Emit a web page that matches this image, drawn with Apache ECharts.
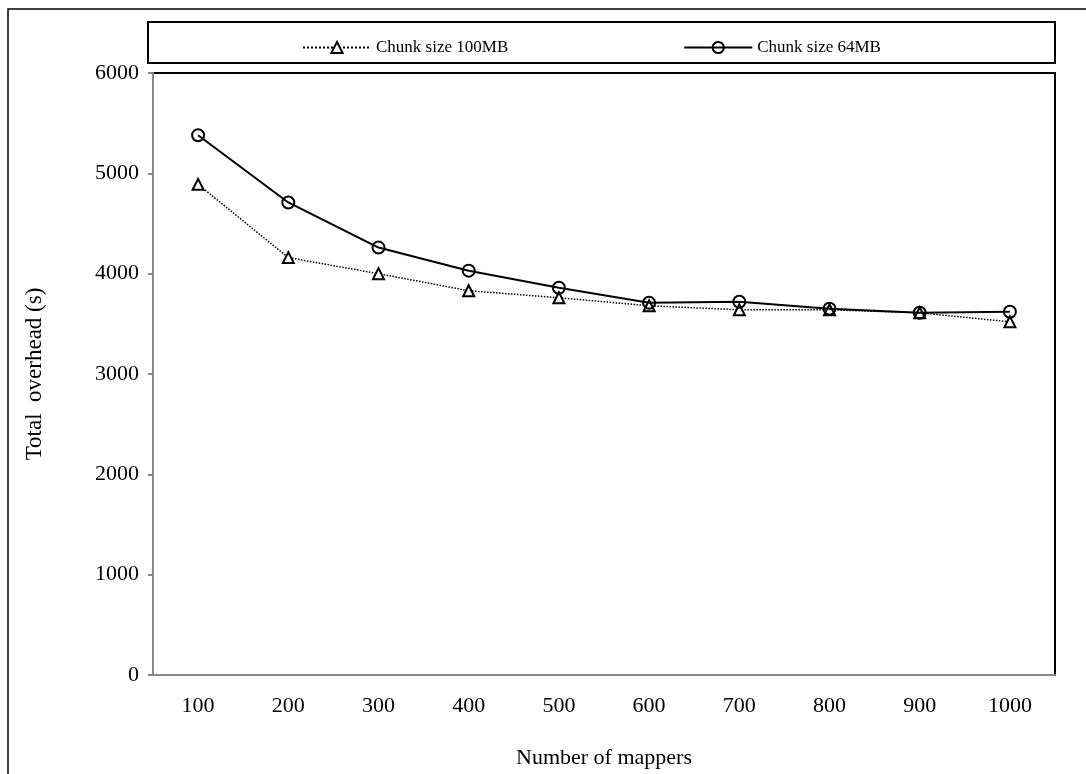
<!DOCTYPE html>
<html>
<head>
<meta charset="utf-8">
<script src="https://cdn.jsdelivr.net/npm/echarts@6/dist/echarts.min.js"></script>
<style>html,body{margin:0;padding:0;background:#fff}#c{width:1086px;height:774px}</style>
</head>
<body>
<div id="c"></div>
<script>
const categories = ['100','200','300','400','500','600','700','800','900','1000'];
const chunk100MB = [4890, 4160, 4000, 3830, 3760, 3680, 3640, 3640, 3610, 3520];
const chunk64MB = [5380, 4710, 4260, 4030, 3860, 3710, 3720, 3650, 3610, 3620];
const seriesNames = ['Chunk size 100MB', 'Chunk size 64MB'];
const yTicks = { min: 0, max: 6000, interval: 1000 };

const FONT = '"Liberation Serif", "Times New Roman", serif';
const chart = echarts.init(document.getElementById('c'));
chart.setOption({
  backgroundColor: '#fff',
  animation: false,
  graphic: [
    { type: 'rect', shape: { x: 8, y: 9, width: 1200, height: 900 }, style: { fill: 'none', stroke: '#000', lineWidth: 1.5 }, z: 0 },
    { type: 'rect', shape: { x: 148, y: 22, width: 907, height: 41 }, style: { fill: 'none', stroke: '#000', lineWidth: 2 }, z: 0 }
  ],
  legend: {
    left: 297, top: 34,
    itemWidth: 68, itemHeight: 14, itemGap: 175,
    textStyle: { fontFamily: FONT, fontSize: 17, color: '#000' },
    data: seriesNames
  },
  grid: { left: 153, right: 31, top: 73, bottom: 98, show: true, borderColor: '#000', borderWidth: 2, backgroundColor: 'transparent' },
  xAxis: {
    type: 'category', data: categories, boundaryGap: true,
    name: 'Number of mappers', nameLocation: 'middle', nameGap: 72,
    nameTextStyle: { fontFamily: FONT, fontSize: 22, color: '#000' },
    axisLine: { lineStyle: { color: '#888', width: 2 } },
    axisTick: { alignWithLabel: true, length: 5, lineStyle: { color: '#888', width: 2 } },
    axisLabel: { fontFamily: FONT, fontSize: 22, color: '#000', margin: 20 },
    splitLine: { show: false }
  },
  yAxis: {
    type: 'value', min: yTicks.min, max: yTicks.max, interval: yTicks.interval,
    name: 'Total  overhead (s)', nameLocation: 'middle', nameGap: 107,
    nameTextStyle: { fontFamily: FONT, fontSize: 23, color: '#000' },
    axisLine: { show: true, lineStyle: { color: '#888', width: 2 } },
    axisTick: { show: true, length: 5, lineStyle: { color: '#888', width: 2 } },
    axisLabel: { fontFamily: FONT, fontSize: 22, color: '#000', margin: 14, formatter: function (v) { return String(v); } },
    splitLine: { show: false }
  },
  series: [
    {
      name: seriesNames[0], type: 'line', data: chunk100MB,
      symbol: 'triangle', symbolSize: 11,
      lineStyle: { type: 'dotted', width: 1.5, color: '#000' },
      itemStyle: { color: '#fff', borderColor: '#000', borderWidth: 2 },
      z: 3
    },
    {
      name: seriesNames[1], type: 'line', data: chunk64MB,
      symbol: 'circle', symbolSize: 12,
      lineStyle: { type: 'solid', width: 2, color: '#000' },
      itemStyle: { color: 'rgba(255,255,255,0)', borderColor: '#000', borderWidth: 2 },
      z: 4
    }
  ]
});
</script>
</body>
</html>
